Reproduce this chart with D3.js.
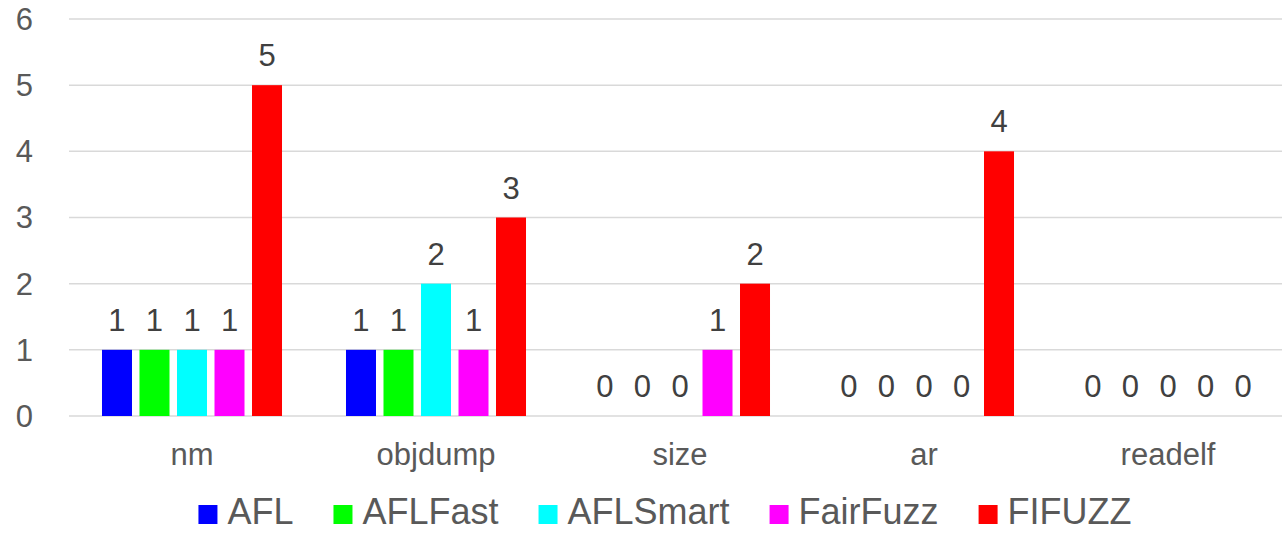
<!DOCTYPE html>
<html>
<head>
<meta charset="utf-8">
<script src="https://cdn.jsdelivr.net/npm/d3@7"></script>
<style>
  html, body { margin: 0; padding: 0; background: #fff; }
  svg { display: block; font-family: "Liberation Sans", Arial, sans-serif; }
</style>
</head>
<body>
<svg id="chart" width="1282" height="533"></svg>
<script>
const categories = ["nm", "objdump", "size", "ar", "readelf"];
const seriesNames = ["AFL", "AFLFast", "AFLSmart", "FairFuzz", "FIFUZZ"];
const seriesColors = ["#0000FF", "#00FF00", "#00FFFF", "#FF00FF", "#FF0000"];
const AFL      = [1, 1, 0, 0, 0];
const AFLFast  = [1, 1, 0, 0, 0];
const AFLSmart = [1, 2, 0, 0, 0];
const FairFuzz = [1, 1, 1, 0, 0];
const FIFUZZ   = [5, 3, 2, 4, 0];
const yTicks = [0, 1, 2, 3, 4, 5, 6];

const seriesValues = [AFL, AFLFast, AFLSmart, FairFuzz, FIFUZZ];

const svg = d3.select("#chart");

const y = d3.scaleLinear().domain([0, 6]).range([416, 19]);
const x0 = d3.scaleBand().domain(categories).range([70, 1290]).padding(0);
const x1 = d3.scaleBand().domain(seriesNames).range([0, x0.bandwidth()])
  .paddingInner(0.2).paddingOuter(0.853);
const color = d3.scaleOrdinal().domain(seriesNames).range(seriesColors);

// gridlines
svg.append("g").selectAll("line").data(yTicks).join("line")
  .attr("x1", 69).attr("x2", 1282)
  .attr("y1", d => y(d)).attr("y2", d => y(d))
  .attr("stroke", "#d9d9d9").attr("stroke-width", 1.5);

// y tick labels
svg.append("g").selectAll("text").data(yTicks).join("text")
  .attr("x", 33).attr("y", d => y(d))
  .attr("dy", "0.35em")
  .attr("text-anchor", "end")
  .attr("font-size", 31).attr("fill", "#595959")
  .text(d => d);

// bars
const groups = svg.append("g").selectAll("g").data(categories).join("g")
  .attr("transform", c => `translate(${x0(c)},0)`);

groups.selectAll("rect")
  .data((c, ci) => seriesNames.map((s, si) => ({ s, v: seriesValues[si][ci] })))
  .join("rect")
  .attr("x", d => x1(d.s))
  .attr("width", x1.bandwidth())
  .attr("y", d => y(d.v))
  .attr("height", d => y(0) - y(d.v))
  .attr("fill", d => color(d.s));

groups.selectAll("text")
  .data((c, ci) => seriesNames.map((s, si) => ({ s, v: seriesValues[si][ci] })))
  .join("text")
  .attr("x", d => x1(d.s) + x1.bandwidth() / 2)
  .attr("y", d => y(d.v) - 19)
  .attr("text-anchor", "middle")
  .attr("font-size", 31).attr("fill", "#404040")
  .text(d => d.v);

// category labels
svg.append("g").selectAll("text").data(categories).join("text")
  .attr("x", c => x0(c) + x0.bandwidth() / 2)
  .attr("y", 465)
  .attr("text-anchor", "middle")
  .attr("font-size", 31).attr("fill", "#595959")
  .text(c => c);

// legend
const legend = svg.append("g");
const items = legend.selectAll("g").data(seriesNames).join("g");
items.append("rect").attr("width", 19).attr("height", 19).attr("y", 505)
  .attr("fill", d => color(d));
items.append("text").attr("x", 29).attr("y", 524)
  .attr("font-size", 36).attr("fill", "#595959")
  .text(d => d);
let widths = [];
items.each(function () { widths.push(this.querySelector("text").getComputedTextLength()); });
const gap = 40;
const total = d3.sum(widths.map(w => 29 + w)) + gap * (widths.length - 1);
let cx = 665 - total / 2;
items.each(function (d, i) {
  d3.select(this).attr("transform", `translate(${cx},0)`);
  cx += 29 + widths[i] + gap;
});
</script>
</body>
</html>
